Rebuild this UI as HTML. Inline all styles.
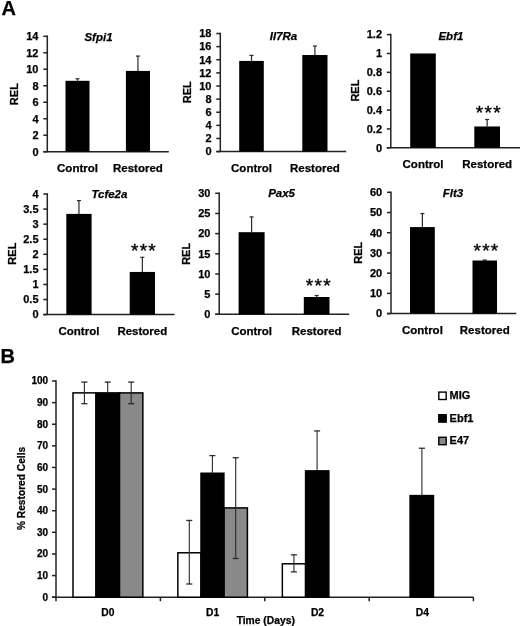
<!DOCTYPE html>
<html><head><meta charset="utf-8"><style>
html,body{margin:0;padding:0;background:#fff;}
svg{display:block;filter:grayscale(1);}
text{font-family:"Liberation Sans", sans-serif;fill:#000;stroke:#000;stroke-width:0.25px;}
</style></head><body>
<svg width="520" height="626" viewBox="0 0 520 626">
<rect width="520" height="626" fill="#fff"/>
<line x1="47.30" y1="35.55" x2="47.30" y2="151.70" stroke="#222" stroke-width="1.5"/>
<line x1="43.30" y1="151.70" x2="168.80" y2="151.70" stroke="#222" stroke-width="1.5"/>
<line x1="43.30" y1="151.70" x2="47.30" y2="151.70" stroke="#222" stroke-width="1.5"/>
<text x="38.50" y="155.50" font-size="11" text-anchor="end" font-weight="bold">0</text>
<line x1="43.30" y1="135.21" x2="47.30" y2="135.21" stroke="#222" stroke-width="1.5"/>
<text x="38.50" y="139.01" font-size="11" text-anchor="end" font-weight="bold">2</text>
<line x1="43.30" y1="118.73" x2="47.30" y2="118.73" stroke="#222" stroke-width="1.5"/>
<text x="38.50" y="122.53" font-size="11" text-anchor="end" font-weight="bold">4</text>
<line x1="43.30" y1="102.24" x2="47.30" y2="102.24" stroke="#222" stroke-width="1.5"/>
<text x="38.50" y="106.04" font-size="11" text-anchor="end" font-weight="bold">6</text>
<line x1="43.30" y1="85.76" x2="47.30" y2="85.76" stroke="#222" stroke-width="1.5"/>
<text x="38.50" y="89.56" font-size="11" text-anchor="end" font-weight="bold">8</text>
<line x1="43.30" y1="69.27" x2="47.30" y2="69.27" stroke="#222" stroke-width="1.5"/>
<text x="38.50" y="73.07" font-size="11" text-anchor="end" font-weight="bold">10</text>
<line x1="43.30" y1="52.79" x2="47.30" y2="52.79" stroke="#222" stroke-width="1.5"/>
<text x="38.50" y="56.59" font-size="11" text-anchor="end" font-weight="bold">12</text>
<line x1="43.30" y1="36.30" x2="47.30" y2="36.30" stroke="#222" stroke-width="1.5"/>
<text x="38.50" y="40.10" font-size="11" text-anchor="end" font-weight="bold">14</text>
<line x1="77.50" y1="78.75" x2="77.50" y2="80.81" stroke="#2a2a2a" stroke-width="1.2"/>
<line x1="75.50" y1="78.75" x2="79.50" y2="78.75" stroke="#2a2a2a" stroke-width="1.2"/>
<rect x="65.50" y="80.81" width="24.00" height="70.89" fill="#000"/>
<text x="77.50" y="171.80" font-size="11.5" text-anchor="middle" font-weight="bold">Control</text>
<line x1="137.95" y1="56.08" x2="137.95" y2="70.92" stroke="#2a2a2a" stroke-width="1.2"/>
<line x1="135.95" y1="56.08" x2="139.95" y2="56.08" stroke="#2a2a2a" stroke-width="1.2"/>
<rect x="125.90" y="70.92" width="24.10" height="80.78" fill="#000"/>
<text x="137.95" y="171.80" font-size="11.5" text-anchor="middle" font-weight="bold">Restored</text>
<text x="98.50" y="40.80" font-size="11.5" text-anchor="middle" font-weight="bold" font-style="italic">Sfpi1</text>
<text transform="translate(18.40,94.15) rotate(-90)" x="0" y="0" font-size="11" text-anchor="middle" font-weight="bold">REL</text>
<line x1="220.30" y1="32.75" x2="220.30" y2="151.60" stroke="#222" stroke-width="1.5"/>
<line x1="216.30" y1="151.60" x2="346.20" y2="151.60" stroke="#222" stroke-width="1.5"/>
<line x1="216.30" y1="151.60" x2="220.30" y2="151.60" stroke="#222" stroke-width="1.5"/>
<text x="211.50" y="155.40" font-size="11" text-anchor="end" font-weight="bold">0</text>
<line x1="216.30" y1="138.48" x2="220.30" y2="138.48" stroke="#222" stroke-width="1.5"/>
<text x="211.50" y="142.28" font-size="11" text-anchor="end" font-weight="bold">2</text>
<line x1="216.30" y1="125.36" x2="220.30" y2="125.36" stroke="#222" stroke-width="1.5"/>
<text x="211.50" y="129.16" font-size="11" text-anchor="end" font-weight="bold">4</text>
<line x1="216.30" y1="112.23" x2="220.30" y2="112.23" stroke="#222" stroke-width="1.5"/>
<text x="211.50" y="116.03" font-size="11" text-anchor="end" font-weight="bold">6</text>
<line x1="216.30" y1="99.11" x2="220.30" y2="99.11" stroke="#222" stroke-width="1.5"/>
<text x="211.50" y="102.91" font-size="11" text-anchor="end" font-weight="bold">8</text>
<line x1="216.30" y1="85.99" x2="220.30" y2="85.99" stroke="#222" stroke-width="1.5"/>
<text x="211.50" y="89.79" font-size="11" text-anchor="end" font-weight="bold">10</text>
<line x1="216.30" y1="72.87" x2="220.30" y2="72.87" stroke="#222" stroke-width="1.5"/>
<text x="211.50" y="76.67" font-size="11" text-anchor="end" font-weight="bold">12</text>
<line x1="216.30" y1="59.74" x2="220.30" y2="59.74" stroke="#222" stroke-width="1.5"/>
<text x="211.50" y="63.54" font-size="11" text-anchor="end" font-weight="bold">14</text>
<line x1="216.30" y1="46.62" x2="220.30" y2="46.62" stroke="#222" stroke-width="1.5"/>
<text x="211.50" y="50.42" font-size="11" text-anchor="end" font-weight="bold">16</text>
<line x1="216.30" y1="33.50" x2="220.30" y2="33.50" stroke="#222" stroke-width="1.5"/>
<text x="211.50" y="37.30" font-size="11" text-anchor="end" font-weight="bold">18</text>
<line x1="251.50" y1="55.41" x2="251.50" y2="60.93" stroke="#2a2a2a" stroke-width="1.2"/>
<line x1="249.50" y1="55.41" x2="253.50" y2="55.41" stroke="#2a2a2a" stroke-width="1.2"/>
<rect x="239.20" y="60.93" width="24.60" height="90.67" fill="#000"/>
<text x="251.50" y="172.00" font-size="11.5" text-anchor="middle" font-weight="bold">Control</text>
<line x1="314.90" y1="46.03" x2="314.90" y2="55.02" stroke="#2a2a2a" stroke-width="1.2"/>
<line x1="312.90" y1="46.03" x2="316.90" y2="46.03" stroke="#2a2a2a" stroke-width="1.2"/>
<rect x="302.30" y="55.02" width="25.20" height="96.58" fill="#000"/>
<text x="314.90" y="172.00" font-size="11.5" text-anchor="middle" font-weight="bold">Restored</text>
<text x="283.50" y="39.80" font-size="11.5" text-anchor="middle" font-weight="bold" font-style="italic">Il7Ra</text>
<text transform="translate(191.00,92.20) rotate(-90)" x="0" y="0" font-size="11" text-anchor="middle" font-weight="bold">REL</text>
<line x1="390.80" y1="33.85" x2="390.80" y2="147.80" stroke="#222" stroke-width="1.5"/>
<line x1="386.80" y1="147.80" x2="520.00" y2="147.80" stroke="#222" stroke-width="1.5"/>
<line x1="386.80" y1="147.80" x2="390.80" y2="147.80" stroke="#222" stroke-width="1.5"/>
<text x="382.00" y="151.60" font-size="11" text-anchor="end" font-weight="bold">0</text>
<line x1="386.80" y1="128.93" x2="390.80" y2="128.93" stroke="#222" stroke-width="1.5"/>
<text x="382.00" y="132.73" font-size="11" text-anchor="end" font-weight="bold">0.2</text>
<line x1="386.80" y1="110.07" x2="390.80" y2="110.07" stroke="#222" stroke-width="1.5"/>
<text x="382.00" y="113.87" font-size="11" text-anchor="end" font-weight="bold">0.4</text>
<line x1="386.80" y1="91.20" x2="390.80" y2="91.20" stroke="#222" stroke-width="1.5"/>
<text x="382.00" y="95.00" font-size="11" text-anchor="end" font-weight="bold">0.6</text>
<line x1="386.80" y1="72.33" x2="390.80" y2="72.33" stroke="#222" stroke-width="1.5"/>
<text x="382.00" y="76.13" font-size="11" text-anchor="end" font-weight="bold">0.8</text>
<line x1="386.80" y1="53.47" x2="390.80" y2="53.47" stroke="#222" stroke-width="1.5"/>
<text x="382.00" y="57.27" font-size="11" text-anchor="end" font-weight="bold">1</text>
<line x1="386.80" y1="34.60" x2="390.80" y2="34.60" stroke="#222" stroke-width="1.5"/>
<text x="382.00" y="38.40" font-size="11" text-anchor="end" font-weight="bold">1.2</text>
<rect x="410.20" y="53.47" width="25.60" height="94.33" fill="#000"/>
<text x="423.00" y="168.20" font-size="11.5" text-anchor="middle" font-weight="bold">Control</text>
<line x1="487.15" y1="119.50" x2="487.15" y2="126.48" stroke="#2a2a2a" stroke-width="1.2"/>
<line x1="485.15" y1="119.50" x2="489.15" y2="119.50" stroke="#2a2a2a" stroke-width="1.2"/>
<rect x="474.30" y="126.48" width="25.70" height="21.32" fill="#000"/>
<text x="487.15" y="168.20" font-size="11.5" text-anchor="middle" font-weight="bold">Restored</text>
<text x="450.90" y="39.60" font-size="11.5" text-anchor="middle" font-weight="bold" font-style="italic">Ebf1</text>
<text transform="translate(359.15,90.60) rotate(-90)" x="0" y="0" font-size="11" text-anchor="middle" font-weight="bold">REL</text>
<text x="488.80" y="119.10" font-size="19" text-anchor="middle" font-weight="normal" letter-spacing="1.3" style="stroke-width:0.4px">***</text>
<line x1="47.30" y1="193.25" x2="47.30" y2="314.60" stroke="#222" stroke-width="1.5"/>
<line x1="43.30" y1="314.60" x2="174.50" y2="314.60" stroke="#222" stroke-width="1.5"/>
<line x1="43.30" y1="314.60" x2="47.30" y2="314.60" stroke="#222" stroke-width="1.5"/>
<text x="38.50" y="318.40" font-size="11" text-anchor="end" font-weight="bold">0</text>
<line x1="43.30" y1="299.53" x2="47.30" y2="299.53" stroke="#222" stroke-width="1.5"/>
<text x="38.50" y="303.33" font-size="11" text-anchor="end" font-weight="bold">0.5</text>
<line x1="43.30" y1="284.45" x2="47.30" y2="284.45" stroke="#222" stroke-width="1.5"/>
<text x="38.50" y="288.25" font-size="11" text-anchor="end" font-weight="bold">1</text>
<line x1="43.30" y1="269.38" x2="47.30" y2="269.38" stroke="#222" stroke-width="1.5"/>
<text x="38.50" y="273.18" font-size="11" text-anchor="end" font-weight="bold">1.5</text>
<line x1="43.30" y1="254.30" x2="47.30" y2="254.30" stroke="#222" stroke-width="1.5"/>
<text x="38.50" y="258.10" font-size="11" text-anchor="end" font-weight="bold">2</text>
<line x1="43.30" y1="239.23" x2="47.30" y2="239.23" stroke="#222" stroke-width="1.5"/>
<text x="38.50" y="243.03" font-size="11" text-anchor="end" font-weight="bold">2.5</text>
<line x1="43.30" y1="224.15" x2="47.30" y2="224.15" stroke="#222" stroke-width="1.5"/>
<text x="38.50" y="227.95" font-size="11" text-anchor="end" font-weight="bold">3</text>
<line x1="43.30" y1="209.07" x2="47.30" y2="209.07" stroke="#222" stroke-width="1.5"/>
<text x="38.50" y="212.88" font-size="11" text-anchor="end" font-weight="bold">3.5</text>
<line x1="43.30" y1="194.00" x2="47.30" y2="194.00" stroke="#222" stroke-width="1.5"/>
<text x="38.50" y="197.80" font-size="11" text-anchor="end" font-weight="bold">4</text>
<line x1="78.95" y1="200.63" x2="78.95" y2="213.90" stroke="#2a2a2a" stroke-width="1.2"/>
<line x1="76.95" y1="200.63" x2="80.95" y2="200.63" stroke="#2a2a2a" stroke-width="1.2"/>
<rect x="66.30" y="213.90" width="25.30" height="100.70" fill="#000"/>
<text x="78.95" y="334.80" font-size="11.5" text-anchor="middle" font-weight="bold">Control</text>
<line x1="142.35" y1="257.31" x2="142.35" y2="271.94" stroke="#2a2a2a" stroke-width="1.2"/>
<line x1="140.35" y1="257.31" x2="144.35" y2="257.31" stroke="#2a2a2a" stroke-width="1.2"/>
<rect x="129.70" y="271.94" width="25.30" height="42.66" fill="#000"/>
<text x="142.35" y="334.80" font-size="11.5" text-anchor="middle" font-weight="bold">Restored</text>
<text x="109.40" y="198.00" font-size="11.5" text-anchor="middle" font-weight="bold" font-style="italic">Tcfe2a</text>
<text transform="translate(15.65,253.65) rotate(-90)" x="0" y="0" font-size="11" text-anchor="middle" font-weight="bold">REL</text>
<text x="144.00" y="256.90" font-size="19" text-anchor="middle" font-weight="normal" letter-spacing="1.3" style="stroke-width:0.4px">***</text>
<line x1="219.20" y1="192.55" x2="219.20" y2="314.30" stroke="#222" stroke-width="1.5"/>
<line x1="215.20" y1="314.30" x2="349.20" y2="314.30" stroke="#222" stroke-width="1.5"/>
<line x1="215.20" y1="314.30" x2="219.20" y2="314.30" stroke="#222" stroke-width="1.5"/>
<text x="210.40" y="318.10" font-size="11" text-anchor="end" font-weight="bold">0</text>
<line x1="215.20" y1="294.13" x2="219.20" y2="294.13" stroke="#222" stroke-width="1.5"/>
<text x="210.40" y="297.93" font-size="11" text-anchor="end" font-weight="bold">5</text>
<line x1="215.20" y1="273.97" x2="219.20" y2="273.97" stroke="#222" stroke-width="1.5"/>
<text x="210.40" y="277.77" font-size="11" text-anchor="end" font-weight="bold">10</text>
<line x1="215.20" y1="253.80" x2="219.20" y2="253.80" stroke="#222" stroke-width="1.5"/>
<text x="210.40" y="257.60" font-size="11" text-anchor="end" font-weight="bold">15</text>
<line x1="215.20" y1="233.63" x2="219.20" y2="233.63" stroke="#222" stroke-width="1.5"/>
<text x="210.40" y="237.43" font-size="11" text-anchor="end" font-weight="bold">20</text>
<line x1="215.20" y1="213.47" x2="219.20" y2="213.47" stroke="#222" stroke-width="1.5"/>
<text x="210.40" y="217.27" font-size="11" text-anchor="end" font-weight="bold">25</text>
<line x1="215.20" y1="193.30" x2="219.20" y2="193.30" stroke="#222" stroke-width="1.5"/>
<text x="210.40" y="197.10" font-size="11" text-anchor="end" font-weight="bold">30</text>
<line x1="251.60" y1="216.90" x2="251.60" y2="232.18" stroke="#2a2a2a" stroke-width="1.2"/>
<line x1="249.60" y1="216.90" x2="253.60" y2="216.90" stroke="#2a2a2a" stroke-width="1.2"/>
<rect x="238.60" y="232.18" width="26.00" height="82.12" fill="#000"/>
<text x="251.60" y="335.00" font-size="11.5" text-anchor="middle" font-weight="bold">Control</text>
<line x1="316.65" y1="295.50" x2="316.65" y2="297.00" stroke="#2a2a2a" stroke-width="1.2"/>
<line x1="314.65" y1="295.50" x2="318.65" y2="295.50" stroke="#2a2a2a" stroke-width="1.2"/>
<rect x="303.80" y="297.00" width="25.70" height="17.30" fill="#000"/>
<text x="316.65" y="335.00" font-size="11.5" text-anchor="middle" font-weight="bold">Restored</text>
<text x="281.60" y="196.60" font-size="11.5" text-anchor="middle" font-weight="bold" font-style="italic">Pax5</text>
<text transform="translate(190.15,253.85) rotate(-90)" x="0" y="0" font-size="11" text-anchor="middle" font-weight="bold">REL</text>
<text x="318.80" y="292.40" font-size="19" text-anchor="middle" font-weight="normal" letter-spacing="1.3" style="stroke-width:0.4px">***</text>
<line x1="391.00" y1="191.55" x2="391.00" y2="313.60" stroke="#222" stroke-width="1.5"/>
<line x1="387.00" y1="313.60" x2="516.30" y2="313.60" stroke="#222" stroke-width="1.5"/>
<line x1="387.00" y1="313.60" x2="391.00" y2="313.60" stroke="#222" stroke-width="1.5"/>
<text x="382.20" y="317.40" font-size="11" text-anchor="end" font-weight="bold">0</text>
<line x1="387.00" y1="293.38" x2="391.00" y2="293.38" stroke="#222" stroke-width="1.5"/>
<text x="382.20" y="297.18" font-size="11" text-anchor="end" font-weight="bold">10</text>
<line x1="387.00" y1="273.17" x2="391.00" y2="273.17" stroke="#222" stroke-width="1.5"/>
<text x="382.20" y="276.97" font-size="11" text-anchor="end" font-weight="bold">20</text>
<line x1="387.00" y1="252.95" x2="391.00" y2="252.95" stroke="#222" stroke-width="1.5"/>
<text x="382.20" y="256.75" font-size="11" text-anchor="end" font-weight="bold">30</text>
<line x1="387.00" y1="232.73" x2="391.00" y2="232.73" stroke="#222" stroke-width="1.5"/>
<text x="382.20" y="236.53" font-size="11" text-anchor="end" font-weight="bold">40</text>
<line x1="387.00" y1="212.52" x2="391.00" y2="212.52" stroke="#222" stroke-width="1.5"/>
<text x="382.20" y="216.32" font-size="11" text-anchor="end" font-weight="bold">50</text>
<line x1="387.00" y1="192.30" x2="391.00" y2="192.30" stroke="#222" stroke-width="1.5"/>
<text x="382.20" y="196.10" font-size="11" text-anchor="end" font-weight="bold">60</text>
<line x1="422.40" y1="213.53" x2="422.40" y2="227.07" stroke="#2a2a2a" stroke-width="1.2"/>
<line x1="420.40" y1="213.53" x2="424.40" y2="213.53" stroke="#2a2a2a" stroke-width="1.2"/>
<rect x="410.00" y="227.07" width="24.80" height="86.53" fill="#000"/>
<text x="422.40" y="333.80" font-size="11.5" text-anchor="middle" font-weight="bold">Control</text>
<line x1="484.75" y1="260.03" x2="484.75" y2="260.51" stroke="#2a2a2a" stroke-width="1.2"/>
<line x1="482.75" y1="260.03" x2="486.75" y2="260.03" stroke="#2a2a2a" stroke-width="1.2"/>
<rect x="472.50" y="260.51" width="24.50" height="53.09" fill="#000"/>
<text x="484.75" y="333.80" font-size="11.5" text-anchor="middle" font-weight="bold">Restored</text>
<text x="453.00" y="196.60" font-size="11.5" text-anchor="middle" font-weight="bold" font-style="italic">Flt3</text>
<text transform="translate(362.15,252.80) rotate(-90)" x="0" y="0" font-size="11" text-anchor="middle" font-weight="bold">REL</text>
<text x="486.50" y="256.70" font-size="19" text-anchor="middle" font-weight="normal" letter-spacing="1.3" style="stroke-width:0.4px">***</text>
<text x="1.60" y="15.20" font-size="20" text-anchor="start" font-weight="bold">A</text>
<text x="0.40" y="363.30" font-size="20" text-anchor="start" font-weight="bold">B</text>
<line x1="56.00" y1="380.25" x2="56.00" y2="597.20" stroke="#222" stroke-width="1.5"/>
<line x1="52.00" y1="597.20" x2="473.40" y2="597.20" stroke="#222" stroke-width="1.5"/>
<line x1="52.00" y1="597.20" x2="56.00" y2="597.20" stroke="#222" stroke-width="1.5"/>
<text x="48.10" y="600.65" font-size="10" text-anchor="end" font-weight="bold">0</text>
<line x1="52.00" y1="575.58" x2="56.00" y2="575.58" stroke="#222" stroke-width="1.5"/>
<text x="48.10" y="579.03" font-size="10" text-anchor="end" font-weight="bold">10</text>
<line x1="52.00" y1="553.96" x2="56.00" y2="553.96" stroke="#222" stroke-width="1.5"/>
<text x="48.10" y="557.41" font-size="10" text-anchor="end" font-weight="bold">20</text>
<line x1="52.00" y1="532.34" x2="56.00" y2="532.34" stroke="#222" stroke-width="1.5"/>
<text x="48.10" y="535.79" font-size="10" text-anchor="end" font-weight="bold">30</text>
<line x1="52.00" y1="510.72" x2="56.00" y2="510.72" stroke="#222" stroke-width="1.5"/>
<text x="48.10" y="514.17" font-size="10" text-anchor="end" font-weight="bold">40</text>
<line x1="52.00" y1="489.10" x2="56.00" y2="489.10" stroke="#222" stroke-width="1.5"/>
<text x="48.10" y="492.55" font-size="10" text-anchor="end" font-weight="bold">50</text>
<line x1="52.00" y1="467.48" x2="56.00" y2="467.48" stroke="#222" stroke-width="1.5"/>
<text x="48.10" y="470.93" font-size="10" text-anchor="end" font-weight="bold">60</text>
<line x1="52.00" y1="445.86" x2="56.00" y2="445.86" stroke="#222" stroke-width="1.5"/>
<text x="48.10" y="449.31" font-size="10" text-anchor="end" font-weight="bold">70</text>
<line x1="52.00" y1="424.24" x2="56.00" y2="424.24" stroke="#222" stroke-width="1.5"/>
<text x="48.10" y="427.69" font-size="10" text-anchor="end" font-weight="bold">80</text>
<line x1="52.00" y1="402.62" x2="56.00" y2="402.62" stroke="#222" stroke-width="1.5"/>
<text x="48.10" y="406.07" font-size="10" text-anchor="end" font-weight="bold">90</text>
<line x1="52.00" y1="381.00" x2="56.00" y2="381.00" stroke="#222" stroke-width="1.5"/>
<text x="48.10" y="384.45" font-size="10" text-anchor="end" font-weight="bold">100</text>
<line x1="56.00" y1="597.20" x2="56.00" y2="601.20" stroke="#222" stroke-width="1.5"/>
<line x1="160.40" y1="597.20" x2="160.40" y2="601.20" stroke="#222" stroke-width="1.5"/>
<line x1="264.80" y1="597.20" x2="264.80" y2="601.20" stroke="#222" stroke-width="1.5"/>
<line x1="369.20" y1="597.20" x2="369.20" y2="601.20" stroke="#222" stroke-width="1.5"/>
<line x1="473.40" y1="597.20" x2="473.40" y2="601.20" stroke="#222" stroke-width="1.5"/>
<text x="107.95" y="616.00" font-size="10.3" text-anchor="middle" font-weight="bold">D0</text>
<text x="212.55" y="616.00" font-size="10.3" text-anchor="middle" font-weight="bold">D1</text>
<text x="317.50" y="616.00" font-size="10.3" text-anchor="middle" font-weight="bold">D2</text>
<text x="422.35" y="616.00" font-size="10.3" text-anchor="middle" font-weight="bold">D4</text>
<text x="265.75" y="623.60" font-size="10.3" text-anchor="middle" font-weight="bold">Time (Days)</text>
<text transform="translate(24.65,488.45) rotate(-90)" x="0" y="0" font-size="10.2" text-anchor="middle" font-weight="bold">% Restored Cells</text>
<rect x="73.00" y="392.89" width="23.00" height="204.31" fill="#fff" stroke="#000" stroke-width="1.5"/>
<rect x="119.40" y="392.89" width="23.45" height="204.31" fill="#898989" stroke="#000" stroke-width="1.5"/>
<rect x="177.85" y="552.77" width="23.15" height="44.43" fill="#fff" stroke="#000" stroke-width="1.5"/>
<rect x="223.90" y="507.91" width="23.50" height="89.29" fill="#898989" stroke="#000" stroke-width="1.5"/>
<rect x="282.35" y="563.80" width="23.25" height="33.40" fill="#fff" stroke="#000" stroke-width="1.5"/>
<rect x="96.00" y="392.89" width="23.40" height="204.31" fill="#000" stroke="#000" stroke-width="1.5"/>
<rect x="201.00" y="473.25" width="22.90" height="123.95" fill="#000" stroke="#000" stroke-width="1.5"/>
<rect x="305.60" y="470.87" width="23.25" height="126.33" fill="#000" stroke="#000" stroke-width="1.5"/>
<rect x="410.10" y="495.59" width="23.35" height="101.61" fill="#000" stroke="#000" stroke-width="1.5"/>
<line x1="84.40" y1="382.08" x2="84.40" y2="403.70" stroke="#2a2a2a" stroke-width="1.1"/>
<line x1="81.40" y1="382.08" x2="87.40" y2="382.08" stroke="#2a2a2a" stroke-width="1.3"/>
<line x1="81.40" y1="403.70" x2="87.40" y2="403.70" stroke="#2a2a2a" stroke-width="1.3"/>
<line x1="107.70" y1="382.08" x2="107.70" y2="392.89" stroke="#2a2a2a" stroke-width="1.1"/>
<line x1="104.70" y1="382.08" x2="110.70" y2="382.08" stroke="#2a2a2a" stroke-width="1.3"/>
<line x1="131.20" y1="382.08" x2="131.20" y2="403.70" stroke="#2a2a2a" stroke-width="1.1"/>
<line x1="128.20" y1="382.08" x2="134.20" y2="382.08" stroke="#2a2a2a" stroke-width="1.3"/>
<line x1="128.20" y1="403.70" x2="134.20" y2="403.70" stroke="#2a2a2a" stroke-width="1.3"/>
<line x1="189.30" y1="520.45" x2="189.30" y2="584.01" stroke="#2a2a2a" stroke-width="1.1"/>
<line x1="186.30" y1="520.45" x2="192.30" y2="520.45" stroke="#2a2a2a" stroke-width="1.3"/>
<line x1="186.30" y1="584.01" x2="192.30" y2="584.01" stroke="#2a2a2a" stroke-width="1.3"/>
<line x1="212.40" y1="455.59" x2="212.40" y2="473.25" stroke="#2a2a2a" stroke-width="1.1"/>
<line x1="209.40" y1="455.59" x2="215.40" y2="455.59" stroke="#2a2a2a" stroke-width="1.3"/>
<line x1="235.70" y1="457.75" x2="235.70" y2="558.50" stroke="#2a2a2a" stroke-width="1.1"/>
<line x1="232.70" y1="457.75" x2="238.70" y2="457.75" stroke="#2a2a2a" stroke-width="1.3"/>
<line x1="232.70" y1="558.50" x2="238.70" y2="558.50" stroke="#2a2a2a" stroke-width="1.3"/>
<line x1="293.90" y1="554.82" x2="293.90" y2="571.90" stroke="#2a2a2a" stroke-width="1.1"/>
<line x1="290.90" y1="554.82" x2="296.90" y2="554.82" stroke="#2a2a2a" stroke-width="1.3"/>
<line x1="290.90" y1="571.90" x2="296.90" y2="571.90" stroke="#2a2a2a" stroke-width="1.3"/>
<line x1="317.10" y1="430.94" x2="317.10" y2="470.87" stroke="#2a2a2a" stroke-width="1.1"/>
<line x1="314.10" y1="430.94" x2="320.10" y2="430.94" stroke="#2a2a2a" stroke-width="1.3"/>
<line x1="421.90" y1="448.24" x2="421.90" y2="495.59" stroke="#2a2a2a" stroke-width="1.1"/>
<line x1="418.90" y1="448.24" x2="424.90" y2="448.24" stroke="#2a2a2a" stroke-width="1.3"/>
<rect x="438.80" y="392.10" width="7.40" height="7.40" fill="#fff" stroke="#000" stroke-width="1.4"/>
<text x="449.60" y="399.30" font-size="11" text-anchor="start" font-weight="bold">MIG</text>
<rect x="438.80" y="414.70" width="7.40" height="7.40" fill="#000" stroke="#000" stroke-width="1.4"/>
<text x="449.60" y="421.80" font-size="11" text-anchor="start" font-weight="bold">Ebf1</text>
<rect x="438.80" y="437.30" width="7.40" height="7.40" fill="#898989" stroke="#000" stroke-width="1.4"/>
<text x="449.60" y="444.40" font-size="11" text-anchor="start" font-weight="bold">E47</text>
</svg>
</body></html>
